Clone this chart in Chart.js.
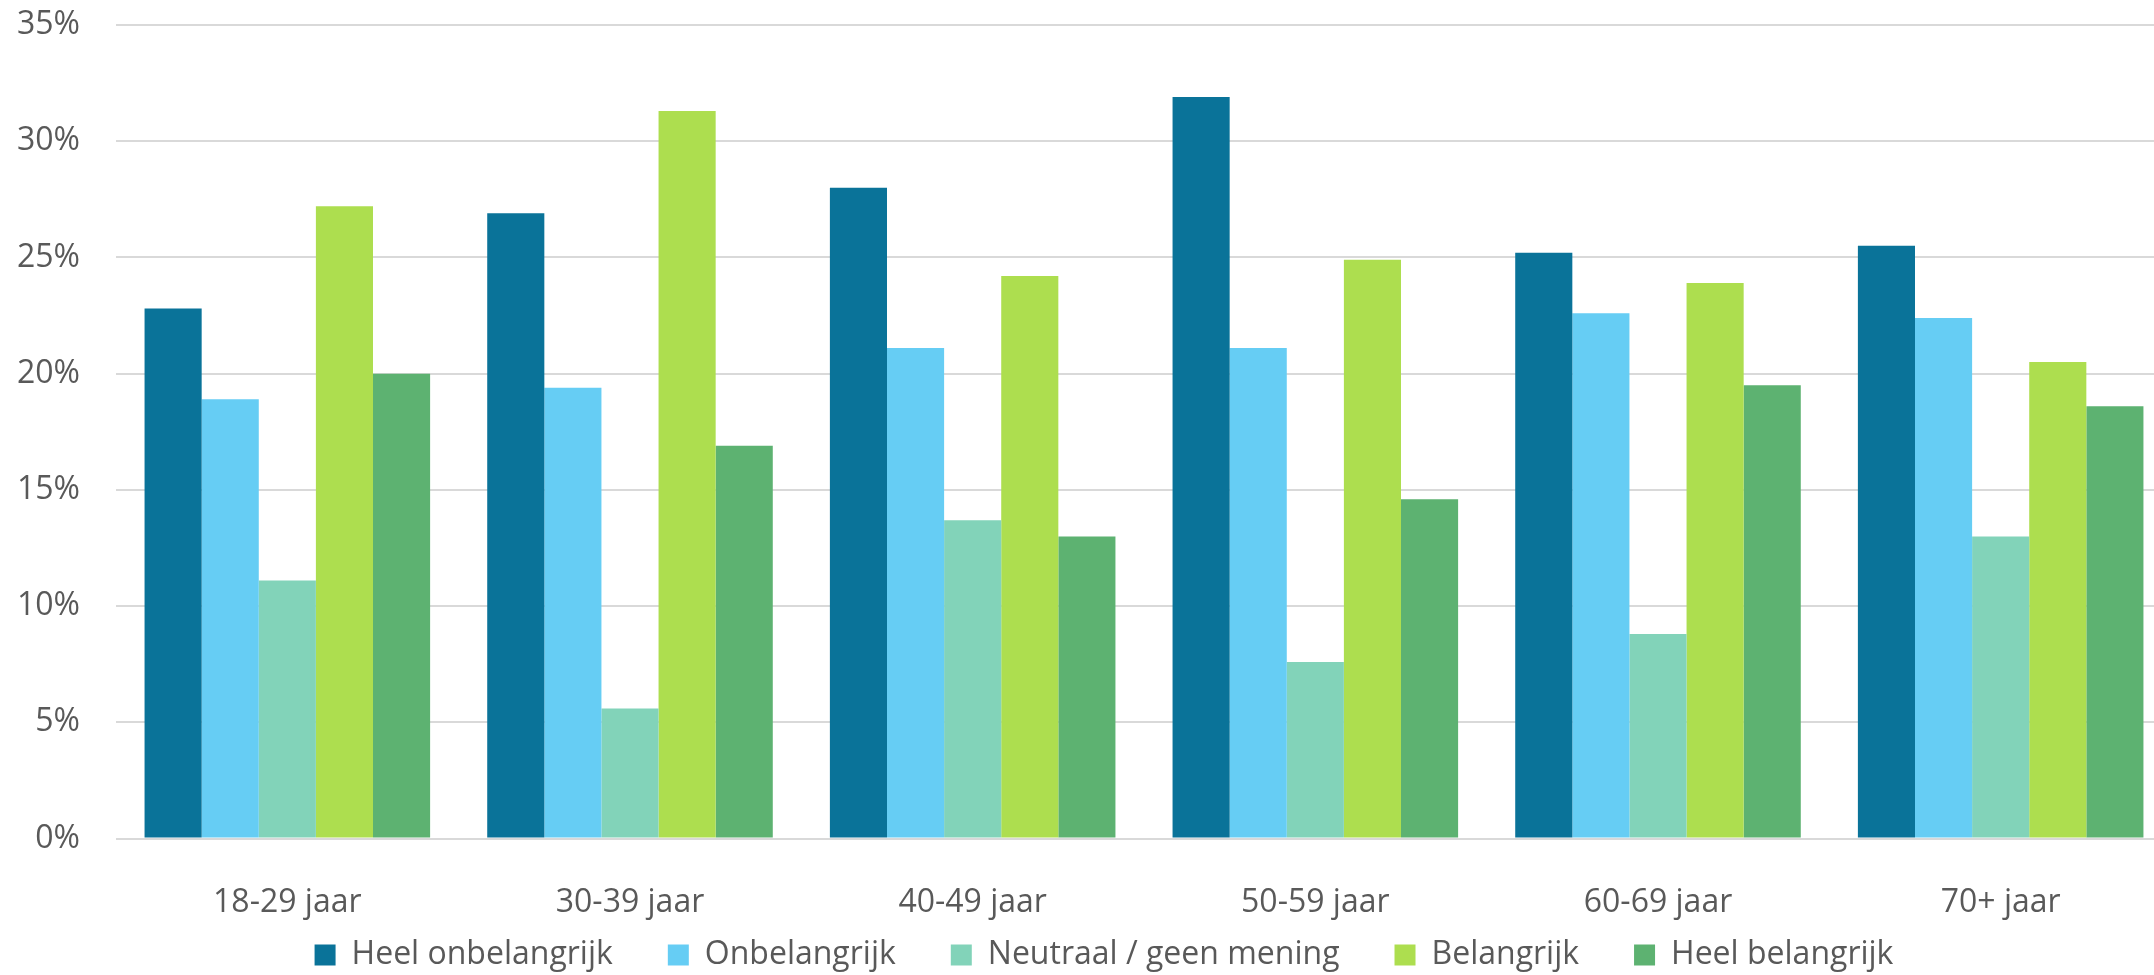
<!DOCTYPE html>
<html>
<head>
<meta charset="utf-8">
<script src="https://cdn.jsdelivr.net/npm/chart.js@4/dist/chart.umd.min.js"></script>
<style>
  html, body { margin: 0; padding: 0; background: #ffffff; overflow: hidden; width: 2154px; height: 975px; }
  #wrap { position: absolute; left: 0; top: 0; width: 2172px; height: 1064px; }
</style>
</head>
<body>
<div id="wrap"><canvas id="c"></canvas></div>
<script>
const categories = ['18-29 jaar', '30-39 jaar', '40-49 jaar', '50-59 jaar', '60-69 jaar', '70+ jaar'];
const seriesNames = ['Heel onbelangrijk', 'Onbelangrijk', 'Neutraal / geen mening', 'Belangrijk', 'Heel belangrijk'];
const heelOnbelangrijk = [22.8, 26.9, 28.0, 31.9, 25.2, 25.5];
const onbelangrijk     = [18.9, 19.4, 21.1, 21.1, 22.6, 22.4];
const neutraal         = [11.1, 5.6, 13.7, 7.6, 8.8, 13.0];
const belangrijk       = [27.2, 31.3, 24.2, 24.9, 23.9, 20.5];
const heelBelangrijk   = [20.0, 16.9, 13.0, 14.6, 19.5, 18.6];
const yTicks = [0, 5, 10, 15, 20, 25, 30, 35];

const seriesValues = [heelOnbelangrijk, onbelangrijk, neutraal, belangrijk, heelBelangrijk];
const colors = ['#0A7399', '#66CDF4', '#82D3B9', '#ADDE4F', '#5DB271'];

const TEXT = '#595959';
const GRID = '#D9D9D9';
const FONT = "'Open Sans', sans-serif";

const legendShift = {
  id: 'legendShift',
  afterLayout(chart) {
    const L = chart.legend;
    if (!L) return;
    const dx = 18, dy = -83;
    L.left += dx; L.right += dx; L.top += dy; L.bottom += dy;
  }
};

new Chart(document.getElementById('c'), {
  type: 'bar',
  data: {
    labels: categories,
    datasets: seriesNames.map((n, i) => ({
      label: n,
      data: seriesValues[i],
      backgroundColor: colors[i],
      borderWidth: 0,
      categoryPercentage: 5 / 6,
      barPercentage: 1.0
    }))
  },
  options: {
    responsive: true,
    maintainAspectRatio: false,
    animation: false,
    layout: { padding: { top: 25, left: 0, right: 0, bottom: 0 } },
    plugins: {
      legend: {
        position: 'bottom',
        labels: {
          color: TEXT,
          font: { family: FONT, size: 32 },
          boxWidth: 21,
          boxHeight: 21,
          padding: 55
        }
      },
      tooltip: { enabled: false }
    },
    scales: {
      x: {
        grid: { display: false, drawTicks: false },
        border: { display: false },
        ticks: { color: TEXT, font: { family: FONT, size: 32 }, padding: 45, maxRotation: 0 }
      },
      y: {
        min: 0,
        max: 35,
        afterBuildTicks(scale) { scale.ticks = yTicks.map(v => ({ value: v })); },
        afterFit(scale) { scale.width = 116; scale.paddingTop = 0; scale.paddingBottom = 0; },
        grid: { color: GRID, lineWidth: 2, drawTicks: false },
        border: { display: false },
        ticks: {
          color: TEXT,
          font: { family: FONT, size: 32 },
          padding: 36,
          callback: v => v + '%'
        }
      }
    }
  },
  plugins: [legendShift]
});
</script>
</body>
</html>
